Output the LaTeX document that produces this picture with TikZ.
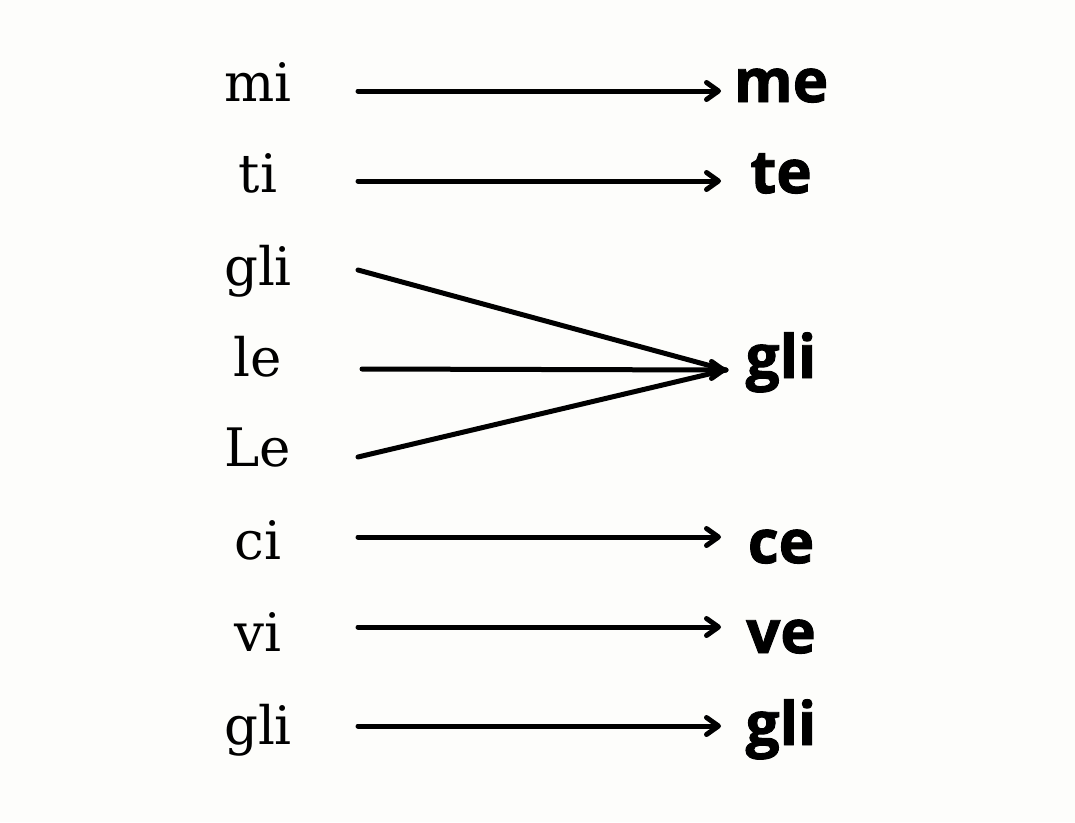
\documentclass[tikz,border=0pt]{standalone}
\usepackage{fontspec}
\setmainfont{DejaVu Serif}
\newfontfamily\rightfont[BoldFeatures={FakeBold=1.6}]{Open Sans}
\usetikzlibrary{arrows.meta}
\definecolor{bg}{HTML}{FDFDFB}
\begin{document}
\begin{tikzpicture}[x=1pt,y=-1pt,
  src/.style={font=\fontsize{53}{53}\selectfont, inner sep=0pt, anchor=base},
  dst/.style={font=\rightfont\bfseries\fontsize{60}{60}\selectfont, inner sep=0pt, anchor=base},
  ln/.style={line width=5pt, line cap=round},
  arr/.style={ln, -{Straight Barb[length=12pt,width=17pt,line cap=round,line join=round]}}]
\fill[bg] (0,0) rectangle (1075,822);
\useasboundingbox (0,0) rectangle (1075,822);
% left words (base lines)
\node[src] (l1) at (258,101) {mi};
\node[src] (l2) at (258,192) {ti};
\node[src] (l3) at (258,285) {gli};
\node[src] (l4) at (258,376) {le};
\node[src] (l5) at (258,466) {Le};
\node[src] (l6) at (258,559) {ci};
\node[src] (l7) at (258,651) {vi};
\node[src] (l8) at (258,744) {gli};
% right words
\node[dst] (r1) at (781,102) {me};
\node[dst] (r2) at (781,193) {te};
\node[dst] (r3) at (781,378) {gli};
\node[dst] (r6) at (781,563) {ce};
\node[dst] (r7) at (781,653) {ve};
\node[dst] (r8) at (781,745) {gli};
% connector anchor points
\coordinate (a1) at (358,91);  \coordinate (b1) at (721,91);
\coordinate (a2) at (358,181); \coordinate (b2) at (721,181);
\coordinate (a3) at (358,270);
\coordinate (a4) at (362,369);
\coordinate (a5) at (358,457);
\coordinate (b3) at (726,370);
\coordinate (a6) at (358,537); \coordinate (b6) at (721,537);
\coordinate (a7) at (358,627); \coordinate (b7) at (721,627);
\coordinate (a8) at (358,726); \coordinate (b8) at (721,726);
\draw[arr] (a1) -- (b1);
\draw[arr] (a2) -- (b2);
\draw[ln] (a3) -- (b3);
\draw[ln] (a5) -- (b3);
\draw[arr] (a4) -- (b3);
\draw[arr] (a6) -- (b6);
\draw[arr] (a7) -- (b7);
\draw[arr] (a8) -- (b8);
\end{tikzpicture}
\end{document}
